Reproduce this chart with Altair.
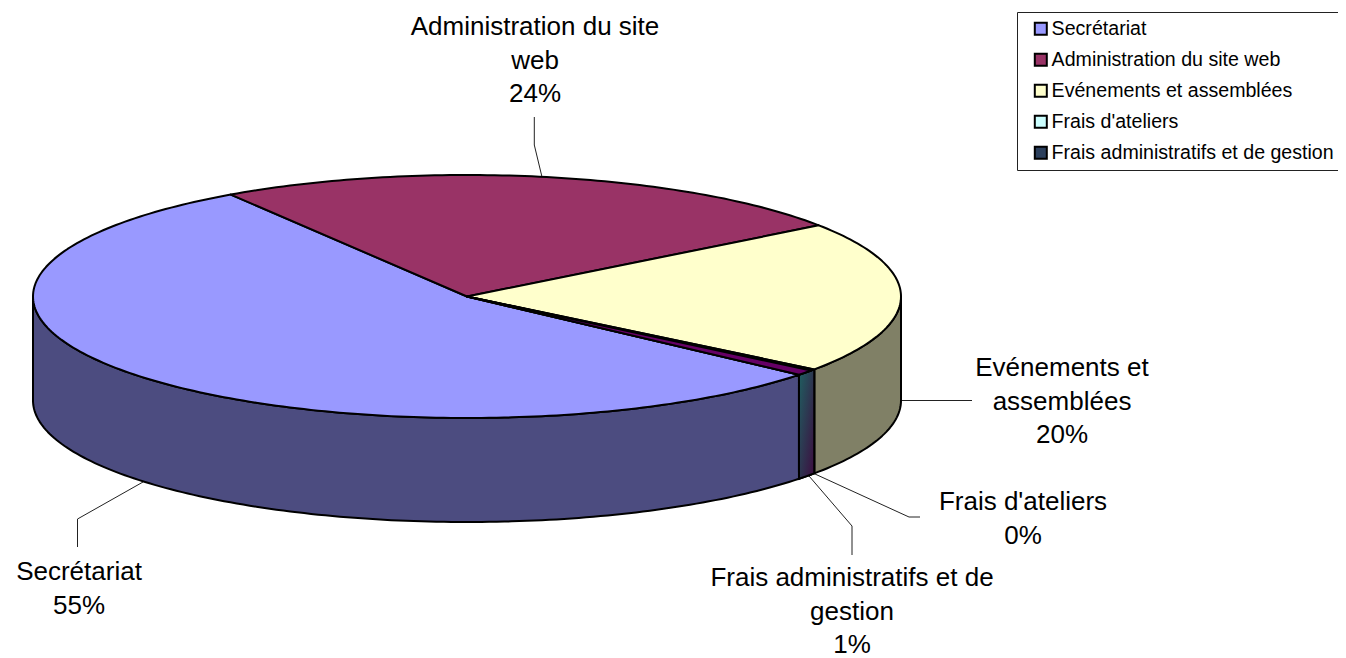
import math
import altair as alt

# ---- data
categories = ["Secrétariat", "Administration du site web", "Evénements et assemblées",
              "Frais d'ateliers", "Frais administratifs et de gestion"]
shares = [54.7, 24.2, 20.2, 0.2, 0.7]
percent_labels = ["55%", "24%", "20%", "0%", "1%"]
wrapped_names = ["Secrétariat", "Administration du site\nweb", "Evénements et\nassemblées",
                 "Frais d'ateliers", "Frais administratifs et de\ngestion"]
top_colors = ["#9999FF", "#993366", "#FFFFCC", "#CCFFFF", "#660066"]
legend_colors = ["#9999FF", "#993366", "#FFFFCC", "#CCFFFF", "#2B3F5C"]
wall_colors = ["#4C4C80", "#4D1933", "#808066", "#1F5A5C", "#3D0C40"]

# ---- layout (page pixels, handed to an identity projection)
CX, CY, RX, RY, DEPTH = 467.0, 296.5, 434.0, 121.5, 104.0
START = -40.1
label_x = [79, 535, 1062, 1023, 852]
label_y = [572, 27, 368, 502, 578]
leaders = [
    [[143, 482], [77.5, 519], [77.5, 547]],
    [[534.3, 117], [534.3, 145], [542, 177]],
    [[901, 400.5], [972, 400.5]],
    [[815, 474], [909, 517], [920, 517]],
    [[809, 476], [852, 526], [852, 555]],
]


def pt(t, dy=0.0):
    r = math.radians(t)
    return [CX + RX * math.cos(r), CY - RY * math.sin(r) + dy]


def sweep(a, b):
    n = max(2, int(abs(a - b)) + 2)
    return [a + (b - a) * i / (n - 1) for i in range(n)]


def feature(coords, kind="Polygon", **props):
    geo = {"type": kind, "coordinates": [coords] if kind == "Polygon" else coords}
    return {"type": "Feature", "geometry": geo, "properties": props}


tops, walls = [], []
small_wall = []
a = START
for i, name in enumerate(categories):
    b = a - shares[i] * 3.6
    edge = [pt(t) for t in sweep(a, b)]
    tops.append(feature([[CX, CY]] + edge + [[CX, CY]], name=name, fill=top_colors[i]))
    # the visible outer wall is the part of the rim on the lower half
    lo, hi = b, a
    spans = []
    for base in (-180, -540):
        s, e = max(lo, base), min(hi, base + 180)
        if s < e:
            spans.append((e, s))
    for e, s in spans:
        ts = sweep(e, s)
        poly = [pt(t) for t in ts] + [pt(t, DEPTH) for t in reversed(ts)]
        poly.append(poly[0])
        walls.append(feature(poly, name=name, fill=wall_colors[i]))
    a = b

# the two tiny slices share one shaded wall
ts = sweep(START + (shares[3] + shares[4]) * 3.6, START)
poly = [pt(t) for t in ts] + [pt(t, DEPTH) for t in reversed(ts)]
poly.append(poly[0])
small_wall.append(feature(poly, name="small"))

leader_feats = [feature(c, kind="LineString", name=categories[i]) for i, c in enumerate(leaders)]
label_rows = [
    {"text": f"{wrapped_names[i]}\n{percent_labels[i]}", "lon": label_x[i], "lat": label_y[i]}
    for i in range(len(categories))
]

proj = alt.Projection(type="identity", scale=1, translate=[-8, -8])

wall_layer = alt.Chart(alt.Data(values=walls)).mark_geoshape(
    stroke="black", strokeWidth=2, strokeJoin="round"
).encode(fill=alt.Fill("properties.fill:N", scale=None))

gradient = alt.LinearGradient(
    gradient="linear",
    stops=[alt.GradientStop(color="#1F5F60", offset=0), alt.GradientStop(color="#3D0C40", offset=1)],
    x1=0, y1=0, x2=1, y2=1,
)
small_layer = alt.Chart(alt.Data(values=small_wall)).mark_geoshape(
    fill=gradient, stroke="black", strokeWidth=2
)

top_layer = alt.Chart(alt.Data(values=tops)).mark_geoshape(
    stroke="black", strokeWidth=2, strokeJoin="round"
).encode(
    fill=alt.Fill(
        "properties.name:N",
        scale=alt.Scale(domain=categories, range=legend_colors),
        sort=categories,
        legend=alt.Legend(
            title=None, orient="none", legendX=1009, legendY=4,
            fillColor="white", strokeColor="#222222", padding=7,
            symbolType="square", symbolSize=144, symbolStrokeColor="black",
            symbolStrokeWidth=2, symbolOffset=7, symbolOpacity=1,
            labelFont="Liberation Sans", labelFontSize=19.6, labelColor="black",
            labelOffset=1, labelLimit=400, rowPadding=10,
        ),
    )
)

# the last slice's top face is plain purple (its legend key is shaded)
sliver_layer = alt.Chart(alt.Data(values=tops[4:])).mark_geoshape(
    stroke="black", strokeWidth=2, strokeJoin="round"
).encode(fill=alt.Fill("properties.fill:N", scale=None))

leader_layer = alt.Chart(alt.Data(values=leader_feats)).mark_geoshape(
    filled=False, stroke="#222222", strokeWidth=1
)

text_layer = alt.Chart(alt.Data(values=label_rows)).mark_text(
    font="Liberation Sans", fontSize=26, color="black", align="center", baseline="middle",
    lineBreak="\n", lineHeight=33.5,
).encode(longitude="lon:Q", latitude="lat:Q", text="text:N")

chart = alt.layer(
    leader_layer, wall_layer, small_layer, top_layer, sliver_layer, text_layer
).resolve_scale(fill="independent").properties(
    width=1330, height=650, padding=0, projection=proj,
    autosize=alt.AutoSizeParams(type="none"),
    background="white",
).configure_view(stroke=None)

chart.save("out.html", embed_options={"renderer": "svg", "actions": False})
